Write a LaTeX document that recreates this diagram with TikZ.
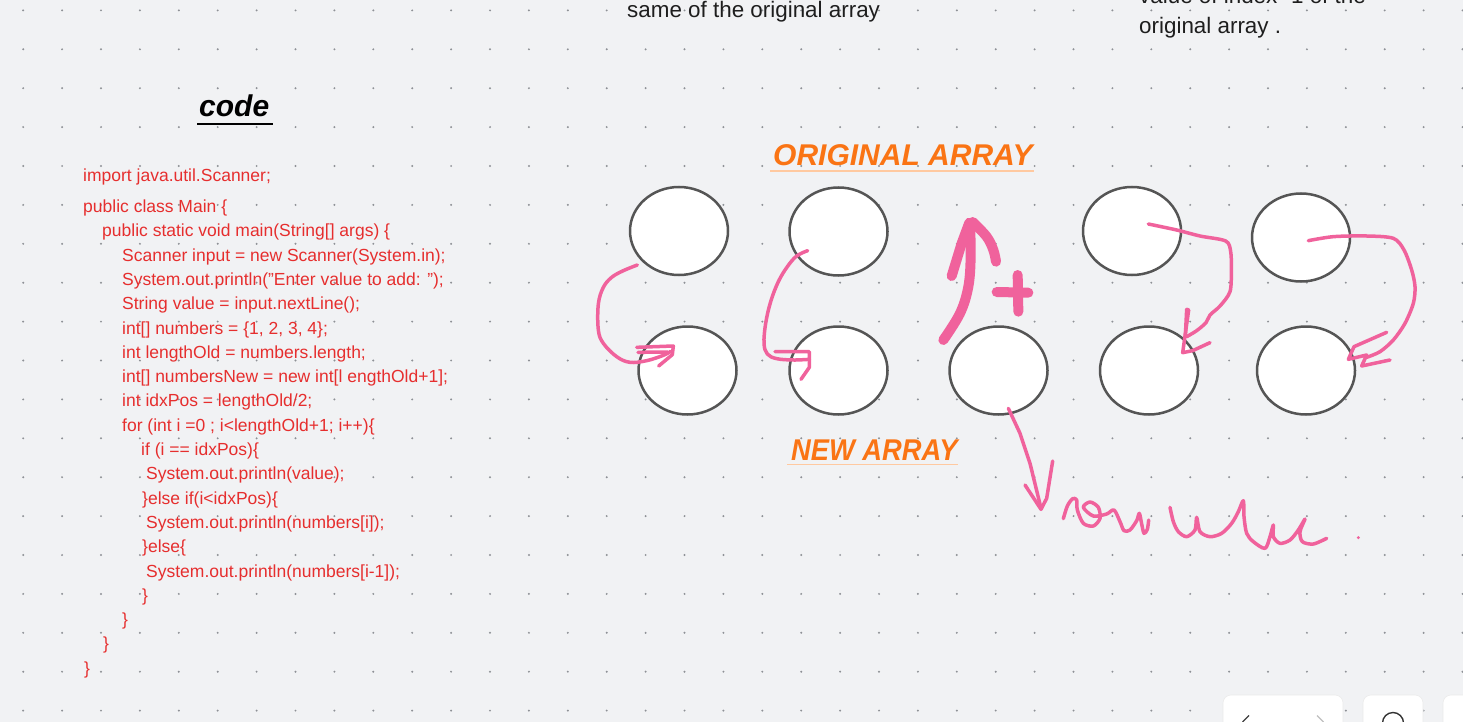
\documentclass[tikz,border=0pt]{standalone}
\usepackage{fontspec}
\setmainfont{Liberation Sans}
\usetikzlibrary{shapes.geometric}
\definecolor{bg}{HTML}{F1F2F4}
\definecolor{griddot}{HTML}{8E9196}
\definecolor{codered}{HTML}{E62E2E}
\definecolor{headorange}{HTML}{FA7414}
\definecolor{ulorange}{HTML}{FFC9A0}
\definecolor{penpink}{HTML}{F0629C}
\definecolor{ringgray}{HTML}{555555}
\definecolor{inkblack}{HTML}{1E1E1E}
\tikzset{
  cell/.style={ellipse, draw=ringgray, line width=2.5pt, fill=white, minimum width=98pt, minimum height=88pt, inner sep=0pt},
  codeline/.style={anchor=base west, inner sep=0pt, text=codered, font=\fontsize{17.5}{20}\selectfont},
  note/.style={anchor=base west, inner sep=0pt, text=inkblack, font=\fontsize{22.4}{26}\selectfont},
  heading/.style={anchor=base west, inner sep=0pt, text=headorange, font=\fontsize{30}{34}\selectfont\bfseries\itshape},
  pen/.style={draw=penpink, line width=3.5pt, line cap=round, line join=round},
  thickpen/.style={draw=penpink, line width=10pt, line cap=round, line join=round},
  uibtn/.style={fill=white, draw=black!8, line width=0.6pt, rounded corners=8pt}
}
\begin{document}
\begin{tikzpicture}[x=1pt,y=-1pt]
\useasboundingbox (0,0) rectangle (1463,722);
\clip (0,0) rectangle (1463,722);
\fill[bg] (0,0) rectangle (1463,722);
% dot grid
\foreach \i in {0,...,37}{
  \foreach \j in {0,...,18}{
    \fill[griddot] ({23.2+38.9*\i},{10.4+38.9*\j}) circle (1.1pt);
  }
}
% top notes (cut off)
\node[note] (n1) at (627,17.5) {same of the original array};
\node[note] (n2) at (1139,4) {value of index -1 of the};
\node[note] (n3) at (1139,34) {original array .};
% code title
\node[anchor=base west, inner sep=0pt, font=\fontsize{30}{34}\selectfont\bfseries\itshape] (codet) at (199,117) {code};
\draw[line width=2.5pt, black] (197,124) -- (273,124);
% code
\node[codeline] (c1) at (83,181.5) {import java.util.Scanner;};
\node[codeline] (c2) at (83,212.5) {public class Main \{};
\node[codeline] (c3) at (102,236.8) {public static void main(String[] args) \{};
\node[codeline] (c4) at (122,261.1) {Scanner input = new Scanner(System.in);};
\node[codeline] (c5) at (122,285.4) {System.out.println("Enter value to add: ");};
\node[codeline] (c6) at (122,309.7) {String value = input.nextLine();};
\node[codeline] (c7) at (122,334) {int[] numbers = \{1, 2, 3, 4\};};
\node[codeline] (c8) at (122,358.3) {int lengthOld = numbers.length;};
\node[codeline] (c9) at (122,382.6) {int[] numbersNew = new int[l engthOld+1];};
\node[codeline] (c10) at (122,406.9) {int idxPos = lengthOld/2;};
\node[codeline] (c11) at (122,431.2) {for (int i =0 ; i<lengthOld+1; i++)\{};
\node[codeline] (c12) at (141,455.5) {if (i == idxPos)\{};
\node[codeline] (c13) at (146,479.8) {System.out.println(value);};
\node[codeline] (c14) at (142,504.1) {\}else if(i<idxPos)\{};
\node[codeline] (c15) at (146,528.4) {System.out.println(numbers[i]);};
\node[codeline] (c16) at (142,552.7) {\}else\{};
\node[codeline] (c17) at (146,577) {System.out.println(numbers[i-1]);};
\node[codeline] (c18) at (142,601.3) {\}};
\node[codeline] (c19) at (122,625.6) {\}};
\node[codeline] (c20) at (103,649.9) {\}};
\node[codeline] (c21) at (84,674.2) {\}};
% headings
\node[heading] (orig) at (773,166) {ORIGINAL ARRAY};
\draw[ulorange, line width=1.5pt] (770,171) -- (1034,171);
\node[heading] (newa) at (791,460) {\scalebox{0.91}[1]{NEW ARRAY}};
\draw[ulorange, line width=1.5pt] (787,464.5) -- (958,464.5);
% array cells
\node[cell] (t1) at (679,231) {};
\node[cell] (t2) at (838.5,231.5) {};
\node[cell] (t3) at (1132,231) {};
\node[cell] (t4) at (1301,237.5) {};
\node[cell] (b1) at (687.5,370.5) {};
\node[cell] (b2) at (838.5,370.5) {};
\node[cell] (b3) at (998.5,370.5) {};
\node[cell] (b4) at (1149,370.5) {};
\node[cell] (b5) at (1306,370.5) {};
% freehand strokes (zoomed coordinates, 1/3 scale)
\begin{scope}[shift={(580,130)}, x=0.33333pt, y=-0.33333pt]
  % t1 -> b1
  \draw[pen] plot[smooth, tension=0.6] coordinates {(172,405) (130,422) (95,442) (70,472) (55,522) (55,600) (70,640) (110,680) (150,697) (200,692) (250,676) (272,664)};
  \draw[pen] (170,652) -- (280,648) -- (277,674) -- (236,708);
  \draw[pen] (174,667) -- (262,666);
  % t2 -> b2
  \draw[pen] plot[smooth, tension=0.6] coordinates {(683,362) (650,378) (622,410) (595,455) (572,515) (557,580) (552,640) (562,672) (590,686) (640,690) (688,688)};
  \draw[pen] (585,665) -- (688,665) -- (688,712) -- (663,748);
\end{scope}
\begin{scope}[shift={(930,200)}, x=0.33333pt, y=-0.33333pt]
  % thick up arrow
  \draw[thickpen] plot[smooth, tension=0.6] coordinates {(40,420) (90,340) (115,260) (122,170) (120,70)};
  \draw[thickpen] (118,68) -- (95,130) -- (65,228);
  \draw[thickpen] plot[smooth, tension=0.6] coordinates {(128,66) (170,110) (190,150) (198,185)};
  % plus
  \draw[thickpen] (263,225) -- (265,335);
  \draw[thickpen] (200,276) -- (295,278);
\end{scope}
\begin{scope}[shift={(1000,170)}, x=0.33333pt, y=-0.33333pt]
  % t3 -> b4
  \draw[pen] plot[smooth, tension=0.5] coordinates {(445,162) (530,180) (600,198) (677,213) (692,245) (694,300) (690,365) (660,408) (630,435) (618,458) (590,482) (560,500)};
  \draw[pen] (566,420) -- (548,548) -- (578,542) -- (630,518);
  \draw[pen] (560,418) -- (566,420);
  \draw[pen] (560,418) -- (556,498);
  % t4 -> b5
  \draw[pen] plot[smooth, tension=0.5] coordinates {(925,212) (1000,200) (1100,198) (1180,205) (1212,240) (1235,300) (1245,350) (1240,400) (1215,460) (1180,510) (1140,545) (1100,562)};
  \draw[pen] (1160,487) -- (1062,530) -- (1045,568) -- (1100,555) -- (1085,588) -- (1170,570);
\end{scope}
\begin{scope}[shift={(980,400)}, x=0.33333pt, y=-0.33333pt]
  % b3 -> new value
  \draw[pen] (85,25) -- (120,100) -- (150,190) -- (183,325);
  \draw[pen] (135,255) -- (183,328) -- (200,295) -- (218,183);
  % scribble "new value"
  \draw[pen] plot[smooth, tension=0.5] coordinates {(250,356) (262,318) (278,296) (290,300) (292,330) (310,370) (340,378) (360,355) (355,322) (330,306) (310,322) (340,348) (380,342) (402,330) (420,365) (432,392) (450,390) (470,362) (478,340) (485,372) (492,400) (502,388) (506,360)};
  \draw[pen] plot[smooth, tension=0.5] coordinates {(570,322) (580,365) (595,395) (620,410) (645,390) (650,352) (660,395) (690,410) (725,400) (755,370) (775,335) (790,302) (792,350) (800,400) (820,425) (855,445) (870,410) (880,375) (880,410) (900,430) (930,420) (955,390) (975,357) (960,395) (967,425) (1000,432) (1040,415)};
  \fill[penpink] (1135,413) circle (5);
\end{scope}
% UI buttons bottom right
\draw[uibtn] (1223,695) rectangle (1343,740);
\draw[uibtn] (1363,695) rectangle (1423,740);
\draw[uibtn] (1443,695) rectangle (1490,740);
\draw[line width=1.2pt, black!75] (1249,715.5) -- (1242.5,722);
\draw[line width=1.2pt, black!25] (1317,715.5) -- (1323.5,722);
\draw[line width=1.4pt, black!80] (1393,723) circle (10.5);
\end{tikzpicture}
\end{document}
